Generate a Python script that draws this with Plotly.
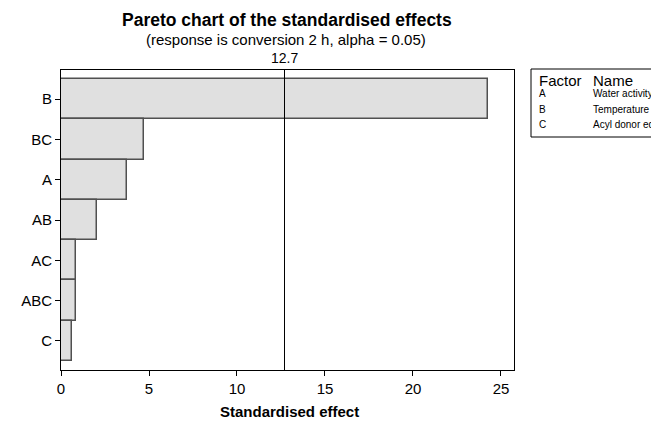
import plotly.graph_objects as go

terms = ["B", "BC", "A", "AB", "AC", "ABC", "C"]
effects = [24.26, 4.72, 3.75, 2.07, 0.87, 0.85, 0.60]
ref_value = 12.7
x_ticks = [0, 5, 10, 15, 20, 25]
factor_codes = ["A", "B", "C"]
factor_names = ["Water activity", "Temperature", "Acyl donor eq"]

FONT = "Liberation Sans, Arial, sans-serif"

# the page body has an 8px margin, so figure px = window px - 8
OFF = 8
# plot area in window px
L, R, T, B = 61, 514, 70, 370
W, H = R - L, B - T
def px(xp):
    return (xp - L) / W
def py(ypix):
    return (B - ypix) / H

fig = go.Figure()
fig.add_trace(go.Bar(
    x=effects, y=terms, orientation="h", width=1,
    marker=dict(color="#e0e0e0", line=dict(color="#505050", width=1.5)),
    showlegend=False, hoverinfo="x+y",
))

fig.add_shape(type="line", xref="x", yref="paper", x0=ref_value, x1=ref_value, y0=0, y1=1,
              line=dict(color="black", width=1))

annotations = [
    dict(text="<b>Pareto chart of the standardised effects</b>", x=px(287), y=py(19.5),
         xref="paper", yref="paper", showarrow=False, font=dict(size=17.5, color="black", family=FONT),
         xanchor="center", yanchor="middle"),
    dict(text="(response is conversion 2 h, alpha = 0.05)", x=px(286), y=py(40),
         xref="paper", yref="paper", showarrow=False, font=dict(size=15, color="black", family=FONT),
         xanchor="center", yanchor="middle"),
    dict(text=str(ref_value), x=ref_value, y=py(58), xref="x", yref="paper", showarrow=False,
         font=dict(size=14, color="black", family=FONT), xanchor="center", yanchor="middle"),
    dict(text="<b>Standardised effect</b>", x=px(289), y=py(411), xref="paper", yref="paper",
         showarrow=False, font=dict(size=15, color="black", family=FONT), xanchor="center", yanchor="middle"),
    dict(text="Factor", x=px(537), y=py(81), xref="paper", yref="paper", showarrow=False,
         font=dict(size=15, color="black", family=FONT), xanchor="left", yanchor="middle"),
    dict(text="Name", x=px(591), y=py(81), xref="paper", yref="paper", showarrow=False,
         font=dict(size=15, color="black", family=FONT), xanchor="left", yanchor="middle"),
]
row_y = [94, 109, 124]
for code, name, yy in zip(factor_codes, factor_names, row_y):
    annotations.append(dict(text=code, x=px(537), y=py(yy), xref="paper", yref="paper", showarrow=False,
                            font=dict(size=10, color="black", family=FONT), xanchor="left", yanchor="middle"))
    annotations.append(dict(text=name, x=px(591), y=py(yy), xref="paper", yref="paper", showarrow=False,
                            font=dict(size=10, color="black", family=FONT), xanchor="left", yanchor="middle"))

fig.add_shape(type="rect", xref="paper", yref="paper", x0=px(531), x1=px(690), y0=py(137), y1=py(69),
              line=dict(color="black", width=1), fillcolor="rgba(0,0,0,0)")

FIG_W, FIG_H = 659, 421
fig.update_layout(
    width=FIG_W, height=FIG_H,
    margin=dict(l=L - OFF, r=FIG_W - (R - OFF), t=T - OFF, b=FIG_H - (B - OFF)),
    paper_bgcolor="white", plot_bgcolor="white",
    font=dict(family=FONT, size=15, color="black"),
    annotations=annotations,
    bargap=0,
)
fig.update_xaxes(range=[0, 25.74], tickvals=x_ticks, ticks="outside", ticklen=5, tickcolor="black",
                 showline=True, linecolor="black", linewidth=1, mirror=True, showgrid=False, zeroline=False,
                 tickfont=dict(size=15, family=FONT, color="black"), fixedrange=True)
fig.update_yaxes(categoryorder="array", categoryarray=terms, range=[6.72, -0.72], ticks="outside", ticklen=5,
                 tickcolor="black", showline=True, linecolor="black", linewidth=1, mirror=True, showgrid=False,
                 tickfont=dict(size=15, family=FONT, color="black"), fixedrange=True)

fig.write_html("out.html")
